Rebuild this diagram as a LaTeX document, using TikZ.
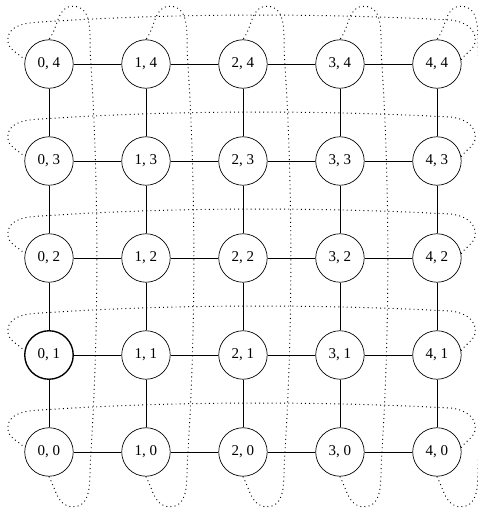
\documentclass[tikz,border=0pt]{standalone}
\usepackage{fontspec}
\setmainfont{Liberation Serif}
\usetikzlibrary{calc}
\tikzset{
  vtx/.style={circle, draw, minimum size=1cm, inner sep=0pt, fill=white,
              font=\fontsize{8.8pt}{10pt}\selectfont},
  v01/.style={thick},
  link/.style={draw},
  wrap/.style={line width=0.55pt, dash pattern=on 0.55pt off 1.9pt}
}
\begin{document}
\begin{tikzpicture}
\useasboundingbox (-1.01,-1.155) rectangle (8.845,9.32);
% nodes
\foreach \i in {0,...,4}{
  \foreach \j in {0,...,4}{
    \node[vtx, v\i\j/.try] (n\i\j) at (2*\i,2*\j) {\i, \j};
  }
}
% horizontal links
\foreach \i in {0,...,3}{
  \pgfmathtruncatemacro\k{\i+1}
  \foreach \j in {0,...,4}{
    \draw[link] (n\i\j) -- (n\k\j);
  }
}
% vertical links
\foreach \j in {0,...,3}{
  \pgfmathtruncatemacro\k{\j+1}
  \foreach \i in {0,...,4}{
    \draw[link] (n\i\j) -- (n\i\k);
  }
}
% horizontal wrap-around links
\foreach \j in {0,...,4}{
  \draw[wrap] (n4\j.10) to[out=56,in=-90] ($(n4\j)+(0.79,0.5)$)
    to[out=90,in=0] ($(n4\j)+(0.2,0.91)$)
    .. controls ($(n4\j)+(-2.5,1.05)$) and ($(n0\j)+(2.5,1.05)$) .. ($(n0\j)+(-0.25,0.86)$)
    to[out=183,in=90] ($(n0\j)+(-0.85,0.5)$)
    to[out=-90,in=134] (n0\j.170);
}
% vertical wrap-around links
\foreach \i in {0,...,4}{
  \draw[wrap] (n\i0.south) to[out=-62,in=180] ($(n\i0)+(0.49,-1.13)$)
    to[out=0,in=-95] ($(n\i0)+(0.86,-0.1)$)
    .. controls ($(n\i0)+(1.03,2.6)$) and ($(n\i4)+(1.03,-2.6)$) .. ($(n\i4)+(0.86,0.1)$)
    to[out=95,in=0] ($(n\i4)+(0.49,1.19)$)
    to[out=180,in=52] (n\i4.north);
}
\end{tikzpicture}
\end{document}
